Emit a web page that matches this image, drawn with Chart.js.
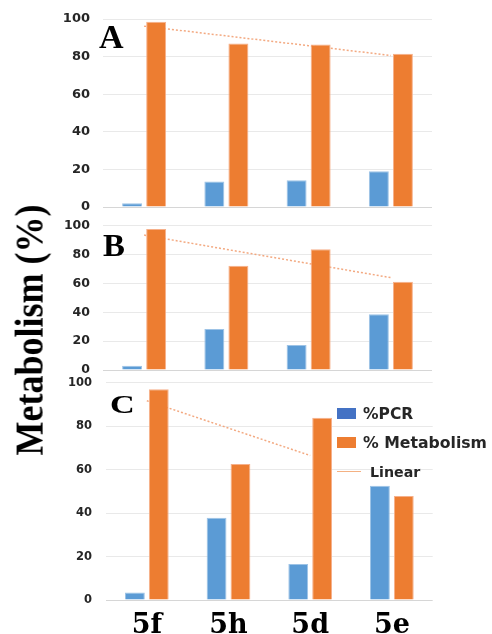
<!DOCTYPE html>
<html>
<head>
<meta charset="utf-8">
<script src="https://cdn.jsdelivr.net/npm/chart.js@4.4.0/dist/chart.umd.min.js"></script>
<style>
  html, body { margin: 0; padding: 0; background: #fff; }
  #wrap { position: relative; width: 492px; height: 634px; overflow: hidden; background: #fff; }
  canvas { position: absolute; left: 0; }
  .t { position: absolute; white-space: nowrap; }
  .serif { font-family: "Liberation Serif", "Times New Roman", serif; font-weight: bold; color: #000; }
  .leg { font-family: "DejaVu Sans", sans-serif; font-weight: bold; color: #262626; }
</style>
</head>
<body>
<div id="wrap">
  <canvas id="cA" width="492" height="216" style="top:0px"></canvas>
  <canvas id="cB" width="492" height="170" style="top:208px"></canvas>
  <canvas id="cC" width="492" height="262" style="top:372px"></canvas>

  <div class="t serif" style="left:-121.5px; top:312px; width:300px; height:36px; line-height:36px; font-size:36px; text-align:center; transform:rotate(-90deg) scaleY(1.12);">Metabolism (%)</div>

  <div class="t serif" style="left:99px; top:19.8px; font-size:34px; line-height:34px;">A</div>
  <div class="t serif" style="left:102.5px; top:229.7px; font-size:31px; line-height:31px; transform:scaleX(1.06); transform-origin:left center;">B</div>
  <div class="t serif" style="left:110px; top:391.5px; font-size:26px; line-height:26px; transform:scaleX(1.32); transform-origin:left center;">C</div>

  <div class="t" style="left:337px; top:408px; width:19px; height:11px; background:#4472C4;"></div>
  <div class="t leg" id="l1" style="left:363px; top:406.9px; font-size:15.5px; line-height:15.5px;"></div>
  <div class="t" style="left:337px; top:437px; width:19px; height:11px; background:#ED7D31;"></div>
  <div class="t leg" id="l2" style="left:363px; top:435px; font-size:15.7px; line-height:15.7px;"></div>
  <div class="t" style="left:337px; top:470.5px; width:24px; height:1px; background:#F4B183;"></div>
  <div class="t leg" id="l3" style="left:370px; top:465.3px; font-size:14.2px; line-height:14.2px;"></div>
</div>
<script>
// ---- data ----
const categories = ['5f', '5h', '5d', '5e'];
const seriesNames = ['%PCR', '% Metabolism', 'Linear'];
const yTicks = [0, 20, 40, 60, 80, 100];

const pcrA = [2, 13.5, 14.2, 19];
const metA = [98.5, 87, 86.5, 81.5];
const linA = [96.2, 91.0, 85.8, 80.6];

const pcrB = [3, 28.4, 17.3, 38.6];
const metB = [97.7, 72.3, 83.6, 61.2];
const linB = [93.5, 83.6, 73.8, 64.0];

const pcrC = [3.4, 37.9, 16.6, 52.6];
const metC = [97, 62.6, 83.9, 47.9];
const linC = [91.7, 79.1, 66.5, null];

document.getElementById('l1').textContent = seriesNames[0];
document.getElementById('l2').textContent = seriesNames[1];
document.getElementById('l3').textContent = seriesNames[2];

const BLUE = '#5B9BD5', ORANGE = '#ED7D31';

function makeChart(id, pcr, met, lin, cfg) {
  const ctx = document.getElementById(id);
  return new Chart(ctx, {
    type: 'bar',
    data: {
      labels: categories,
      datasets: [
        { label: seriesNames[0], data: pcr, backgroundColor: BLUE, borderColor: '#9dc3e6', borderWidth: 1,
          barPercentage: 0.83, categoryPercentage: 0.585, order: 1 },
        { label: seriesNames[1], data: met, backgroundColor: ORANGE, borderColor: '#f6b08a', borderWidth: 1,
          barPercentage: 0.83, categoryPercentage: 0.585, order: 1 },
        { type: 'line', label: seriesNames[2], data: lin, borderColor: 'rgba(242,160,115,0.9)', borderWidth: 1.5,
          borderDash: [2, 2], pointRadius: 0, fill: false, tension: 0, spanGaps: false, order: 2 }
      ]
    },
    options: {
      responsive: false,
      maintainAspectRatio: false,
      animation: false,
      devicePixelRatio: 1,
      layout: { padding: { top: cfg.padTop, bottom: cfg.padBottom, left: 0, right: cfg.padRight } },
      plugins: { legend: { display: false }, tooltip: { enabled: false } },
      scales: {
        x: {
          display: cfg.showX,
          grid: { display: false },
          border: { display: false },
          ticks: {
            padding: cfg.xPad || 0,
            color: '#000',
            font: { family: 'DejaVu Serif', weight: 'bold', size: 27 }
          },
          afterFit: (s) => { if (cfg.showX) s.height = cfg.xHeight; }
        },
        y: {
          min: 0, max: 100,
          afterBuildTicks: (s) => { s.ticks = yTicks.map(v => ({ value: v })); },
          grid: {
            drawTicks: true,
            tickLength: cfg.yPad,
            tickColor: 'rgba(0,0,0,0)',
            color: (c) => (c.tick && c.tick.value === 0) ? '#d6d6d6' : '#e9e9e9',
            lineWidth: 1
          },
          border: { display: false },
          ticks: {
            padding: 0,
            color: '#262626',
            font: { family: 'DejaVu Sans', weight: 'bold', size: cfg.yFont }
          },
          afterFit: (s) => { s.width = cfg.left; }
        }
      }
    }
  });
}

makeChart('cA', pcrA, metA, linA, { padTop: 19, padBottom: 9, padRight: 60, left: 103, yPad: 13, yFont: 13, showX: false });
makeChart('cB', pcrB, metB, linB, { padTop: 17.7, padBottom: 8, padRight: 60, left: 103, yPad: 13, yFont: 12.5, showX: false });
makeChart('cC', pcrC, metC, linC, { padTop: 10.7, padBottom: 0, padRight: 59.3, left: 106, yPad: 14, yFont: 11.5, showX: true, xHeight: 34, xPad: 2 });
</script>
</body>
</html>
